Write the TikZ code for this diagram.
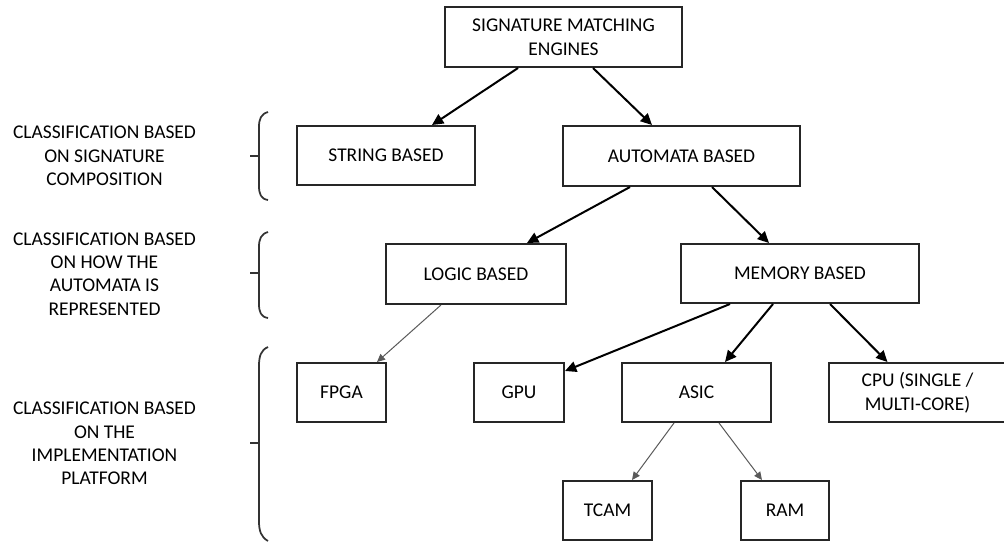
\documentclass[tikz,border=0pt]{standalone}
\usepackage{fontspec}
\setmainfont{Carlito}
\usetikzlibrary{arrows.meta,calc}
\tikzset{
  box/.style={draw=black!85, line width=1.5pt, fill=white, align=center,
    inner sep=0pt, font=\fontsize{14.6}{18}\selectfont},
  lbl/.style={align=center, font=\fontsize{14.6}{17.6}\selectfont},
  bigarrow/.style={draw=black, line width=1.5pt,
    -{Triangle[length=8.5pt,width=8pt]}},
  smallarrow/.style={draw=black!65, line width=0.75pt,
    -{Triangle[length=6pt,width=5.5pt]}},
  bracket/.style={draw=black!80, line width=1.3pt},
}
\begin{document}
\begin{tikzpicture}[x=0.75pt,y=-0.75pt]
\useasboundingbox (0,0) rectangle (1004,543);
\begin{scope}
\clip (0,0) rectangle (1004,543);

% tree boxes
\node[box, minimum width=177.75pt, minimum height=45pt] (sme) at (563.5,37) {SIGNATURE MATCHING\\ENGINES};
\node[box, minimum width=133.5pt, minimum height=44.25pt] (str) at (386,155.5) {STRING BASED};
\node[box, minimum width=177.75pt, minimum height=45pt] (aut) at (681.5,156) {AUTOMATA BASED};
\node[box, minimum width=135pt, minimum height=45pt] (log) at (476,274) {LOGIC BASED};
\node[box, minimum width=178.5pt, minimum height=44.25pt] (mem) at (800,273.5) {MEMORY BASED};
\node[box, minimum width=66.75pt, minimum height=44.25pt] (fpga) at (341.5,392.5) {FPGA};
\node[box, minimum width=67.5pt, minimum height=44.25pt] (gpu) at (519,392.5) {GPU};
\node[box, minimum width=111.75pt, minimum height=44.25pt] (asic) at (696.5,392.5) {ASIC};
\node[box, minimum width=133.5pt, minimum height=44.25pt] (cpu) at (917.5,392.5) {CPU (SINGLE /\\MULTI-CORE)};
\node[box, minimum width=66.75pt, minimum height=44.25pt] (tcam) at (607.5,510.5) {TCAM};
\node[box, minimum width=66pt, minimum height=44.25pt] (ram) at (785,510.5) {RAM};

% connectors
\draw[bigarrow] ($(sme.south)+(-45.5,0)$) -- ($(str.north)+(46,0)$);
\draw[bigarrow] ($(sme.south)+(29.5,0)$) -- ($(aut.north)+(-29.5,0)$);
\draw[bigarrow] ($(aut.south)+(-51.5,0)$) -- ($(log.north)+(51,0)$);
\draw[bigarrow] ($(aut.south)+(30.5,0)$) -- ($(mem.north)+(-31,0)$);
\draw[smallarrow] ($(log.south)+(-35,0)$) -- ($(fpga.north)+(35.5,0)$);
\draw[bigarrow] ($(mem.south)+(-70,0)$) -- ($(gpu.north east)+(0,9)$);
\draw[bigarrow] ($(mem.south)+(-27,0)$) -- ($(asic.north)+(28.5,0)$);
\draw[bigarrow] ($(mem.south)+(30,0)$) -- ($(cpu.north)+(-30,0)$);
\draw[smallarrow] ($(asic.south)+(-22.5,0)$) -- ($(tcam.north)+(24.5,0)$);
\draw[smallarrow] ($(asic.south)+(22.5,0)$) -- ($(ram.north)+(-23,0)$);

% level labels
\node[lbl] (l1) at (104.5,156) {CLASSIFICATION BASED\\ON SIGNATURE\\COMPOSITION};
\node[lbl] (l2) at (104.5,274) {CLASSIFICATION BASED\\ON HOW THE\\AUTOMATA IS\\REPRESENTED};
\node[lbl] (l3) at (104.5,443.5) {CLASSIFICATION BASED\\ON THE\\IMPLEMENTATION\\PLATFORM};

% braces
\draw[bracket] (268,112) .. controls (261,114) and (259,119) .. (259,127)
  -- (259,186) .. controls (259,194) and (261,199) .. (268,200);
\draw[bracket] (250,156) -- (259,156);
\draw[bracket] (268,232) .. controls (261,234) and (259,239) .. (259,247)
  -- (259,304) .. controls (259,312) and (261,317) .. (268,318);
\draw[bracket] (250,273) -- (259,273);
\draw[bracket] (268,347) .. controls (261,350) and (259,356) .. (259,366)
  -- (259,521) .. controls (259,531) and (261,537) .. (268,541);
\draw[bracket] (250,443) -- (259,443);
\end{scope}
\end{tikzpicture}
\end{document}
